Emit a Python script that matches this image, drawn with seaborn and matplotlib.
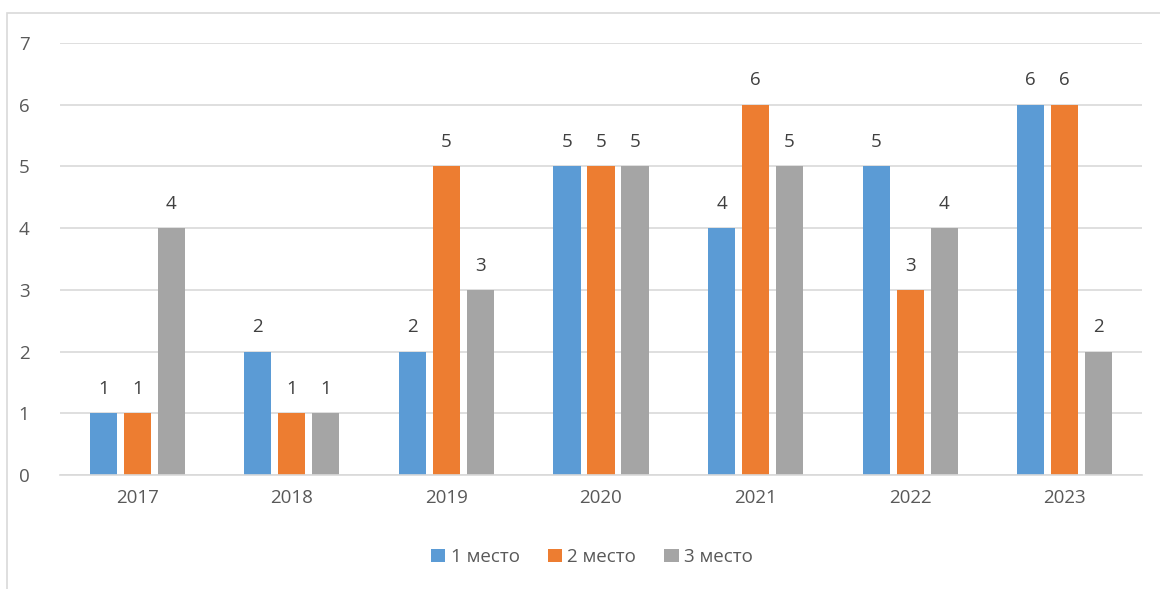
import matplotlib
matplotlib.use("Agg")
import matplotlib.pyplot as plt
import seaborn as sns
import pandas as pd
from matplotlib.patches import Rectangle

years = ["2017", "2018", "2019", "2020", "2021", "2022", "2023"]
series_names = ["1 место", "2 место", "3 место"]
place1 = [1, 2, 2, 5, 4, 5, 6]
place2 = [1, 1, 5, 5, 6, 3, 6]
place3 = [4, 1, 3, 5, 5, 4, 2]
colors = ["#5B9BD5", "#ED7D31", "#A5A5A5"]

rows = []
for name, vals in zip(series_names, [place1, place2, place3]):
    for y, v in zip(years, vals):
        rows.append({"year": y, "series": name, "value": v})
df = pd.DataFrame(rows)

sns.set_theme(style="white")
plt.rcParams['font.family'] = ['Open Sans', 'DejaVu Sans']
text_color = "#595959"

fig = plt.figure(figsize=(11.6, 5.89), dpi=100)
ax = fig.add_axes([60/1160, 1-475/589, (1142-60)/1160, (475-43)/589])

sns.barplot(data=df, x="year", y="value", hue="series", palette=colors,
            width=0.66, gap=0.2, ax=ax, legend=True, saturation=1,
            linewidth=0, edgecolor="none")

ax.set_xlim(-0.5, 6.5)
ax.set_ylim(0, 7)
ax.set_yticks(range(0, 8))
ax.grid(axis="y", color="#D9D9D9", linewidth=1.2)
ax.set_axisbelow(True)
for s in ["top", "right", "left"]:
    ax.spines[s].set_visible(False)
ax.spines["bottom"].set_color("#D9D9D9")
ax.spines["bottom"].set_linewidth(1.2)
ax.set_xlabel("")
ax.set_ylabel("")
ax.tick_params(axis="both", length=0, labelsize=13.5, colors=text_color)
ax.tick_params(axis="y", pad=22)
ax.tick_params(axis="x", pad=10)

for cont in ax.containers:
    ax.bar_label(cont, labels=[f"{int(v)}" for v in cont.datavalues],
                 padding=11, fontsize=13.5, color="#404040")

handles, labels = ax.get_legend_handles_labels()
ax.legend(handles, labels, loc="center", bbox_to_anchor=(592/1160, 1-557/589),
          bbox_transform=fig.transFigure, ncol=3, frameon=False,
          fontsize=13.5, handlelength=0.75, handleheight=0.75, handletextpad=0.3,
          columnspacing=1.5, labelcolor=text_color)

fig.patches.append(Rectangle((7/1160, -0.1), 1.2, 1 - 13/589 + 0.1,
                             transform=fig.transFigure, fill=False,
                             edgecolor="#D9D9D9", linewidth=1.2, zorder=0))

fig.savefig("out.png", dpi=100)
